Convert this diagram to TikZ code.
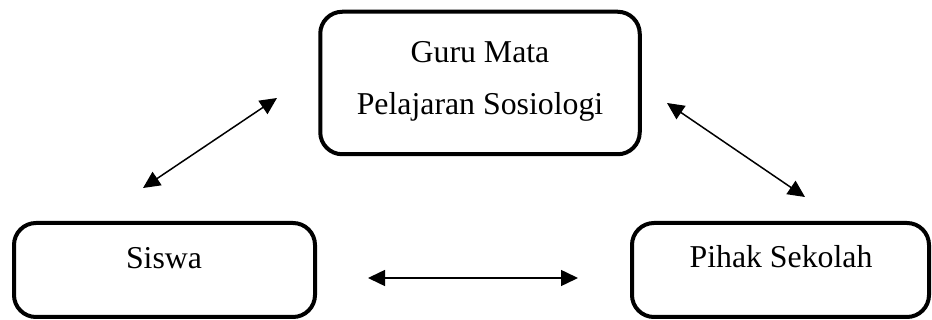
\documentclass[tikz,border=0pt]{standalone}
\usepackage{fontspec}
\setmainfont{Liberation Serif}
\usetikzlibrary{arrows.meta}
\begin{document}
\begin{tikzpicture}[x=1pt,y=-1pt,
  box/.style={draw, line width=4pt, rounded corners=22pt, inner sep=0pt},
  lbl/.style={anchor=base, inner sep=0pt, font=\fontsize{31.8}{38}\selectfont},
  link/.style={line width=1.5pt, {Triangle[length=17pt,width=16pt]}-{Triangle[length=17pt,width=16pt]}}]
\useasboundingbox (0,0) rectangle (932,320);
\node[box, minimum width=319.5pt, minimum height=142.5pt] (guru) at (480,83) {};
\node[box, minimum width=301pt, minimum height=94pt] (siswa) at (164.5,270) {};
\node[box, minimum width=297pt, minimum height=94pt] (pihak) at (780.5,270) {};
\node[lbl] (t1) at (480,63) {Guru Mata};
\node[lbl] (t2) at (480,115) {Pelajaran Sosiologi};
\node[lbl] (t3) at (164,269) {Siswa};
\node[lbl] (t4) at (781,268) {Pihak Sekolah};
\coordinate (a1) at (143,188);
\coordinate (a2) at (277,98);
\coordinate (b1) at (667,103);
\coordinate (b2) at (805,197);
\coordinate (c1) at (368,278);
\coordinate (c2) at (578,278);
\draw[link] (a1) -- (a2);
\draw[link] (b1) -- (b2);
\draw[link] (c1) -- (c2);
\end{tikzpicture}
\end{document}
